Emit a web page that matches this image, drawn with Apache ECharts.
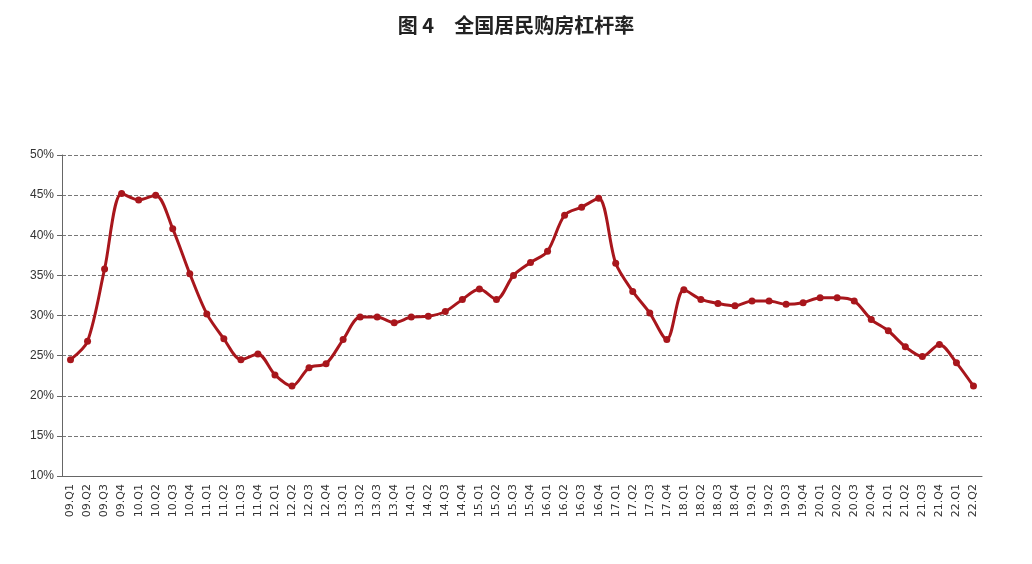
<!DOCTYPE html>
<html><head><meta charset="utf-8">
<script src="https://cdn.jsdelivr.net/npm/echarts@6/dist/echarts.min.js"></script>
<style>body{margin:0;background:#fff}#c{width:1032px;height:564px}</style>
</head><body><div id="c"></div>
<script>
// 季度标签
const quarters = [];
for (let y = 9; y <= 22; y++) {
    for (let q = 1; q <= 4; q++) {
        if (y === 22 && q > 2) break;
        quarters.push(String(y).padStart(2, '0') + '.Q' + q);
    }
}
// 购房杠杆率 (%)
const leverage = [
    24.5, 26.8, 35.8, 45.2, 44.4, 45.0, 40.8, 35.2,
    30.2, 27.1, 24.5, 25.2, 22.6, 21.2, 23.5, 24.0,
    27.0, 29.8, 29.8, 29.1, 29.8, 29.9, 30.5, 32.0,
    33.3, 32.0, 35.0, 36.6, 38.0, 42.5, 43.5, 44.6,
    36.5, 33.0, 30.3, 27.0, 33.2, 32.0, 31.5, 31.2,
    31.8, 31.8, 31.4, 31.6, 32.2, 32.2, 31.8, 29.5,
    28.1, 26.1, 24.9, 26.4, 24.1, 21.2
];

const chart = echarts.init(document.getElementById('c'));
chart.setOption({
    animation: false,
    title: {
        text: '图 4　全国居民购房杠杆率',
        left: 'center', top: 10,
        textStyle: { fontFamily: 'Noto Sans CJK SC', fontSize: 20, fontWeight: 'bold', color: '#222' }
    },
    grid: { left: 62, right: 50, top: 155, bottom: 88 },
    xAxis: {
        type: 'category',
        data: quarters,
        boundaryGap: true,
        axisLine: { lineStyle: { color: '#666' } },
        axisTick: { interval: 0, lineStyle: { color: '#666' } },
        axisLabel: { interval: 0, rotate: 90, fontSize: 11, color: '#333', fontFamily: 'DejaVu Sans' }
    },
    yAxis: {
        type: 'value', min: 10, max: 50, interval: 5,
        axisLine: { show: true, lineStyle: { color: '#666' } },
        axisTick: { show: true, lineStyle: { color: '#666' } },
        axisLabel: { formatter: '{value}%', fontSize: 12, color: '#333' },
        splitLine: { lineStyle: { type: 'dashed', color: '#777' } }
    },
    series: [{
        type: 'line',
        data: leverage,
        smooth: 0.3,
        symbol: 'circle',
        symbolSize: 7,
        lineStyle: { color: '#a8161c', width: 3 },
        itemStyle: { color: '#a8161c' }
    }]
});
</script></body></html>
